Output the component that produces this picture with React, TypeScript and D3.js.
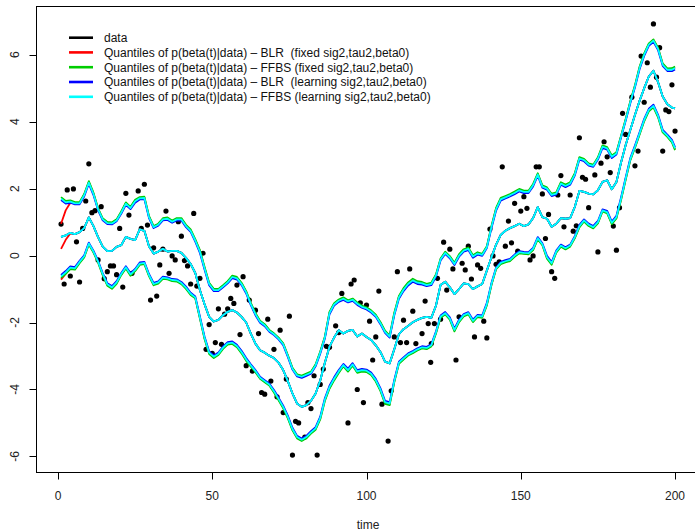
import React from "react";
import * as d3 from "d3";

const W = 695;
const H = 531;

// ---- observed data (time, value) ----
const dataTime = [1,2,3,4,5,6,7,8,9,10,11,12,13,14,15,16,17,18,19,20,21,22,23,24,26,27,28,29,30,31,32,33,34,35,36,37,38,39,40,41,42,43,44,45,46,47,48,49,50,51,52,53,54,55,56,57,58,59,60,61,62,63,64,65,66,67,68,69,70,71,72,73,74,75,76,77,78,80,81,82,83,84,85,86,87,88,90,91,92,94,95,96,97,98,99,100,101,102,103,104,105,107,108,109,110,111,112,113,114,115,116,118,119,120,120.8,121,122,123,124,125,126,127,128,129,130,131,132,133,134,135,136,137,138,139,140,141,142,143,144,145,146,147,148,149,150,151,152,153,154,155,156,157,158,159,160,161,162,163,164,166,167,168,169,170,171,172,174,175,176,177,178,179,180,181,182,183,184,186,187,188,189,190,191,192,193,194,195,196,197,198,199,200];
const dataValue = [0.94,-0.85,1.96,-0.61,1.99,0.41,-0.79,0.81,1.63,2.74,1.28,1.34,-0.13,1.46,-0.69,-0.48,-0.31,-0.31,-0.57,0.81,-0.94,1.86,1.21,-0.53,1.93,0.81,2.13,0.91,-1.33,0.23,-1.21,-0.28,0.19,1.33,-0.53,-0.01,-0.13,1.01,0.58,-0.15,-0.31,-0.85,1.26,-0.91,-0.68,0.07,-2.8,-2.06,-2.92,-2.6,-1.59,-2.65,-1.75,-1.59,-1.28,-1.43,-0.88,-2.36,-0.63,-3.29,-1.33,-3.45,-1.63,-2.33,-4.09,-4.14,-1.9,-3.75,-2.8,-4.22,-2.23,-4.69,-3.69,-1.81,-5.96,-4.95,-5.0,-5.42,-4.39,-4.57,-3.59,-5.96,-3.85,-3.39,-2.71,-2.74,-2.1,-2.3,-1.13,-5.0,-0.85,-0.73,-4.0,-1.41,-4.39,-1.48,-1.96,-3.12,-2.43,-1.06,-4.44,-5.54,-4.04,-2.43,-0.48,-2.6,-1.93,-2.6,-0.4,-1.66,-2.63,-2.33,-1.36,-2.03,-3.19,-2.63,-2.03,-0.68,-1.9,0.4,-1.03,0.19,-0.4,-3.12,-1.83,-0.23,-0.43,0.28,-0.7,-2.43,-0.28,-0.38,-1.96,-2.46,0.79,-0.01,-0.26,-0.19,2.65,0.28,1.03,0.38,1.56,0.13,1.33,1.76,1.41,-0.13,-0.01,2.65,2.65,1.84,0.51,1.23,-0.48,-0.68,1.81,2.39,0.86,1.81,0.73,0.89,3.52,2.34,2.28,1.43,2.41,0.11,2.76,3.4,2.95,2.48,0.88,0.16,1.43,4.25,3.62,4.73,2.68,3.12,5.96,4.58,5.76,5.03,6.92,5.33,6.21,3.12,4.35,4.3,5.1,3.72];

// ---- posterior quantile curves (read at knot times 1, 2.5, 4, ... 199, 200) ----
const knotTime = d3.range(1, 199.5, 1.5).concat([200]);
const qUpper = [
  1.70, 1.59, 1.61, 1.56, 1.56, 1.80, 2.18, 1.84, 1.38, 1.08,
  0.97, 0.96, 1.05, 1.28, 1.55, 1.42, 1.62, 1.71, 1.72, 1.15,
  0.85, 0.92, 1.08, 1.10, 1.01, 1.08, 1.08, 0.88, 0.74, 0.45,
  0.12, -0.38, -0.85, -1.03, -1.03, -0.92, -0.80, -0.64, -0.68, -0.85,
  -1.10, -1.45, -1.75, -1.98, -2.08, -2.25, -2.35, -2.48, -2.65, -3.00,
  -3.38, -3.58, -3.62, -3.56, -3.50, -3.28, -2.90, -2.45, -1.72, -1.46,
  -1.35, -1.29, -1.37, -1.32, -1.44, -1.53, -1.58, -1.67, -1.80, -2.02,
  -2.28, -2.42, -1.75, -1.25, -1.02, -0.85, -0.74, -0.81, -0.83, -0.88,
  -0.85, -0.60, -0.12, 0.08, -0.05, -0.25, 0.00, 0.15, 0.20, -0.03,
  0.06, 0.02, 0.25, 0.85, 1.38, 1.68, 1.74, 1.80, 1.87, 1.95,
  1.90, 1.90, 2.10, 2.42, 2.06, 2.00, 1.81, 1.85, 2.15, 2.08,
  2.15, 2.42, 2.90, 2.85, 2.72, 2.68, 2.90, 3.25, 3.20, 2.95,
  3.05, 3.55, 4.05, 4.58, 5.05, 5.60, 6.00, 6.30, 6.42, 6.17,
  5.70, 5.55, 5.55, 5.60,
];
const qMid = [
  0.56, 0.60, 0.68, 0.64, 0.70, 0.82, 1.14, 0.88, 0.55, 0.27,
  0.13, 0.14, 0.26, 0.31, 0.56, 0.50, 0.46, 0.78, 0.74, 0.28,
  0.06, 0.12, 0.20, 0.12, 0.14, 0.14, 0.08, -0.07, -0.25, -0.52,
  -1.03, -1.45, -1.83, -1.97, -1.92, -1.78, -1.68, -1.63, -1.70, -1.83,
  -2.00, -2.33, -2.63, -2.83, -2.90, -2.99, -3.06, -3.20, -3.42, -3.75,
  -4.12, -4.42, -4.52, -4.47, -4.34, -4.12, -3.73, -3.20, -2.72, -2.45,
  -2.23, -2.33, -2.25, -2.22, -2.42, -2.33, -2.43, -2.52, -2.68, -2.88,
  -3.17, -3.22, -2.80, -2.35, -2.20, -2.10, -1.99, -1.92, -1.86, -1.83,
  -1.86, -1.50, -0.88, -0.78, -0.95, -1.15, -1.00, -0.83, -0.85, -1.00,
  -0.92, -0.85, -0.45, -0.05, 0.33, 0.62, 0.74, 0.82, 0.88, 0.95,
  0.88, 0.93, 1.12, 1.45, 1.15, 1.10, 0.86, 0.95, 1.12, 1.10,
  1.12, 1.45, 1.93, 1.90, 1.85, 1.83, 1.95, 2.20, 2.25, 1.98,
  2.20, 2.78, 3.30, 3.75, 4.20, 4.62, 5.00, 5.35, 5.52, 5.18,
  4.75, 4.52, 4.42, 4.40,
];
const qLower = [
  -0.62, -0.50, -0.36, -0.38, -0.19, -0.02, 0.36, 0.12, -0.18, -0.55,
  -0.86, -0.95, -0.80, -0.55, -0.35, -0.56, -0.43, -0.24, -0.22, -0.58,
  -0.85, -0.80, -0.66, -0.68, -0.73, -0.74, -0.82, -0.96, -1.14, -1.25,
  -1.85, -2.45, -2.90, -3.02, -2.93, -2.75, -2.62, -2.60, -2.70, -2.88,
  -3.10, -3.28, -3.45, -3.65, -3.75, -3.85, -4.05, -4.28, -4.52, -4.82,
  -5.18, -5.42, -5.50, -5.42, -5.28, -5.16, -4.85, -4.30, -3.93, -3.68,
  -3.46, -3.27, -3.42, -3.25, -3.46, -3.42, -3.44, -3.53, -3.72, -4.00,
  -4.38, -4.42, -3.75, -3.20, -3.07, -2.95, -2.88, -2.80, -2.74, -2.76,
  -2.68, -2.30, -1.82, -1.72, -1.88, -2.22, -1.95, -1.78, -1.72, -1.95,
  -1.80, -1.82, -1.45, -0.85, -0.38, -0.22, -0.17, -0.13, 0.00, 0.10,
  0.08, 0.07, 0.20, 0.52, 0.34, -0.05, -0.23, 0.12, 0.30, 0.22,
  0.30, 0.55, 0.88, 1.05, 0.92, 0.85, 1.00, 1.35, 1.30, 0.98,
  1.15, 1.70, 2.30, 2.88, 3.25, 3.65, 4.05, 4.35, 4.47, 4.17,
  3.72, 3.58, 3.42, 3.20,
];
// BLR (fixed) starts lower for the first few knots
const redUpperStart = [0.95, 1.35, 1.58];
const redMidStart = [0.2, 0.47, 0.66];
const redLowerStart = [-0.72, -0.54, -0.37];

// ---- series ----
const seriesNames = [
  "data",
  "Quantiles of p(beta(t)|data) \u2013 BLR  (fixed sig2,tau2,beta0)",
  "Quantiles of p(beta(t)|data) \u2013 FFBS (fixed sig2,tau2,beta0)",
  "Quantiles of p(beta(t)|data) \u2013 BLR  (learning sig2,tau2,beta0)",
  "Quantiles of p(beta(t)|data) \u2013 FFBS (learning sig2,tau2,beta0)",
];
const seriesColors = ["#000000", "#FF0000", "#00CD00", "#0000FF", "#00FFFF"];
const seriesSpread = [1.015, 1.04, 0.965, 1.0]; // band width relative to median

const xTicks = [0, 50, 100, 150, 200];
const yTicks = [-6, -4, -2, 0, 2, 4, 6];

const FONT = "'Liberation Sans', Arial, Helvetica, sans-serif";

export default function App() {
  const left = 36.5, right = 699.6, top = 6.5, bottom = 472.5;
  const x = d3.scaleLinear().domain([-6.96, 207.96]).range([left, right]);
  const y = d3.scaleLinear().domain([-6.48, 7.44]).range([bottom, top]);

  const line = d3
    .line<[number, number]>()
    .x((d) => x(d[0]))
    .y((d) => y(d[1]));

  const curves: { color: string; d: string }[] = [];
  seriesSpread.forEach((s, si) => {
    const color = seriesColors[si + 1];
    const mids = knotTime.map((t, i) => {
      if (si === 0 && i < redMidStart.length) return redMidStart[i];
      return qMid[i];
    });
    const ups = knotTime.map((t, i) => {
      if (si === 0 && i < redUpperStart.length) return redUpperStart[i];
      return qMid[i] + (qUpper[i] - qMid[i]) * s;
    });
    const lows = knotTime.map((t, i) => {
      if (si === 0 && i < redLowerStart.length) return redLowerStart[i];
      return qMid[i] + (qLower[i] - qMid[i]) * s;
    });
    [lows, mids, ups].forEach((arr) => {
      curves.push({
        color,
        d: line(knotTime.map((t, i) => [t, arr[i]] as [number, number])) || "",
      });
    });
  });

  const legendY = [37.7, 52.4, 67.2, 82, 96.8];

  return (
    <svg
      width={W}
      height={H}
      style={{ position: "absolute", left: 0, top: 0, background: "#fff" }}
      fontFamily={FONT}
    >
      <rect x={0} y={0} width={W} height={H} fill="#fff" />
      <defs>
        <clipPath id="plotclip">
          <rect x={left} y={top} width={right - left} height={bottom - top} />
        </clipPath>
      </defs>

      {/* points */}
      <g>
        {dataTime.map((t, i) => (
          <circle key={i} cx={x(t)} cy={y(dataValue[i])} r={2.6} fill="#000" />
        ))}
      </g>

      {/* quantile lines */}
      <g clipPath="url(#plotclip)" fill="none" strokeWidth={1.8} strokeLinejoin="round">
        {curves.map((c, i) => (
          <path key={i} d={c.d} stroke={c.color} />
        ))}
      </g>

      {/* box */}
      <rect x={left} y={top} width={right - left} height={bottom - top} fill="none" stroke="#000" strokeWidth={1} />

      {/* x axis */}
      <g>
        <line x1={x(0)} x2={x(200)} y1={bottom} y2={bottom} stroke="#000" />
        {xTicks.map((t) => (
          <g key={t}>
            <line x1={Math.round(x(t)) + 0.5} x2={Math.round(x(t)) + 0.5} y1={bottom} y2={bottom + 7} stroke="#000" />
            <text x={x(t)} y={500} textAnchor="middle" fontSize={12} fill="#222">
              {t}
            </text>
          </g>
        ))}
        <text x={(left + right) / 2} y={529} textAnchor="middle" fontSize={12} fill="#222">
          time
        </text>
      </g>

      {/* y axis */}
      <g>
        <line x1={left} x2={left} y1={y(-6)} y2={y(6)} stroke="#000" />
        {yTicks.map((v) => (
          <g key={v}>
            <line x1={left - 7} x2={left} y1={Math.round(y(v)) + 0.5} y2={Math.round(y(v)) + 0.5} stroke="#000" />
            <text
              transform={`translate(14.5,${y(v)}) rotate(-90)`}
              textAnchor="middle"
              dy="0.35em"
              fontSize={12}
              fill="#222"
            >
              {v}
            </text>
          </g>
        ))}
      </g>

      {/* legend */}
      <g>
        {seriesNames.map((name, i) => (
          <g key={i}>
            <line x1={69} x2={93} y1={legendY[i]} y2={legendY[i]} stroke={seriesColors[i]} strokeWidth={2.6} />
            <text x={104} y={legendY[i] + 4.3} fontSize={12} fill="#111" style={{ whiteSpace: "pre" }}>
              {name}
            </text>
          </g>
        ))}
      </g>
    </svg>
  );
}
